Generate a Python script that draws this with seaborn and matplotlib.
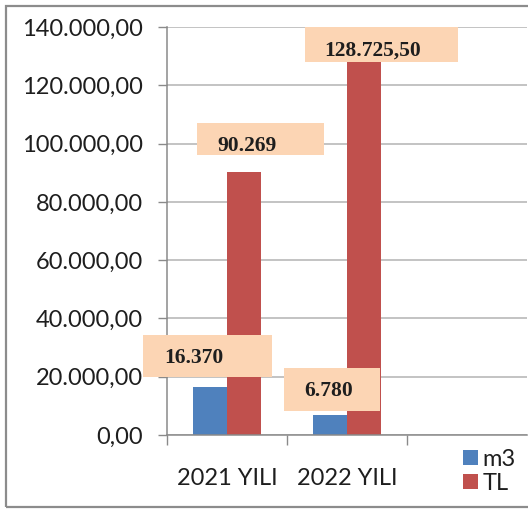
import matplotlib
matplotlib.use("Agg")
import matplotlib.pyplot as plt
from matplotlib.patches import Rectangle
from matplotlib.transforms import ScaledTranslation
from matplotlib.ticker import FuncFormatter, FixedLocator
import seaborn as sns
import pandas as pd

# --- data -------------------------------------------------------------
years = ["2021 YILI", "2022 YILI"]
m3_values = [16370, 6780]
tl_values = [90269, 128725.50]
m3_labels = ["16.370", "6.780"]
tl_labels = ["90.269", "128.725,50"]
y_ticks = [0, 20000, 40000, 60000, 80000, 100000, 120000, 140000]

df = pd.DataFrame({
    "Yil": years * 2,
    "Birim": ["m3"] * len(years) + ["TL"] * len(years),
    "Deger": m3_values + tl_values,
})

# --- style ------------------------------------------------------------
sns.set_style("white")
plt.rcParams["font.family"] = ["Lato", "DejaVu Sans"]

W, H = 528, 511
fig = plt.figure(figsize=(W / 100, H / 100), dpi=100)
ax = fig.add_axes([167 / W, 76 / H, 360 / W, 408 / H])

palette = {"m3": "#4F81BD", "TL": "#C0504D"}
sns.barplot(data=df, x="Yil", y="Deger", hue="Birim", order=years,
            hue_order=["m3", "TL"], palette=palette, width=0.567,
            saturation=1, linewidth=0, errorbar=None, ax=ax)

ax.set_xlim(-0.5, 2.5)
ax.set_ylim(0, 140000)
ax.set_xlabel("")
ax.set_ylabel("")

axis_grey = "#8a8a8a"
ax.yaxis.set_major_locator(FixedLocator(y_ticks))
ax.yaxis.set_major_formatter(FuncFormatter(
    lambda v, _: f"{v:,.2f}".replace(",", "X").replace(".", ",").replace("X", ".")))
ax.yaxis.grid(True, color="#c3c3c3", linewidth=1.4)
ax.xaxis.grid(False)
ax.set_axisbelow(True)

for side in ("top", "right"):
    ax.spines[side].set_visible(False)
for side in ("left", "bottom"):
    ax.spines[side].set_color(axis_grey)
    ax.spines[side].set_linewidth(1.1)

ax.tick_params(axis="y", length=6.5, width=1, color=axis_grey, pad=11,
               labelsize=17, labelcolor="#1e1e1e", left=True)
ax.set_xticks([0, 1])
ax.set_xticklabels(years)
ax.set_xticks([-0.5, 0.5, 1.5], minor=True)
ax.tick_params(axis="x", which="major", length=0, pad=24,
               labelsize=17, labelcolor="#1e1e1e")
ax.tick_params(axis="x", which="minor", length=7, width=1, color=axis_grey,
               bottom=True)

# --- value labels on peach boxes (offsets in pixels from bar top) -------
box_color = "#FCD5B4"
label_layout = {
    ("m3", 0): dict(box=(-2.5, 31, 129, 42), text=(-16.5, 29)),
    ("m3", 1): dict(box=(2, 25.5, 96, 43), text=(-1.5, 24)),
    ("TL", 0): dict(box=(16.5, 33, 127, 32), text=(2.5, 26)),
    ("TL", 1): dict(box=(17.5, 15.5, 153, 35), text=(9, 9)),
}
label_text = {"m3": m3_labels, "TL": tl_labels}

for hue, container in zip(["m3", "TL"], ax.containers):
    for i, bar in enumerate(container):
        x = bar.get_x() + bar.get_width() / 2
        v = bar.get_height()
        anchor = ScaledTranslation(x, v, ax.transData)
        lay = label_layout[(hue, i)]
        bx, by, bw, bh = lay["box"]
        rect = Rectangle((bx - bw / 2, by - bh / 2), bw, bh,
                         transform=anchor, facecolor=box_color,
                         edgecolor="none", clip_on=False, zorder=4)
        ax.add_artist(rect)
        tx, ty = lay["text"]
        ax.text(tx, ty, label_text[hue][i], transform=anchor,
                ha="center", va="center", family="Liberation Serif",
                weight="bold", fontsize=15.5, color="#1e1e1e",
                clip_on=False, zorder=5)

# --- legend -----------------------------------------------------------
handles, labels = ax.get_legend_handles_labels()
ax.legend(handles, labels, loc="upper left",
          bbox_to_anchor=(463 / W, 1 - 449 / H), bbox_transform=fig.transFigure,
          frameon=False, fontsize=17, handlelength=0.62, handleheight=0.6,
          handletextpad=0.2, labelspacing=0.12, borderpad=0, borderaxespad=0)
for t in ax.get_legend().get_texts():
    t.set_color("#1e1e1e")

# --- outer chart frame ------------------------------------------------
fig.add_artist(Rectangle((6 / W, 4 / H), 1.2, (507 - 4) / H - 2 / H,
                         transform=fig.transFigure, fill=False,
                         edgecolor="#8c8c8c", linewidth=1.6))

fig.savefig("out.png", dpi=100)
